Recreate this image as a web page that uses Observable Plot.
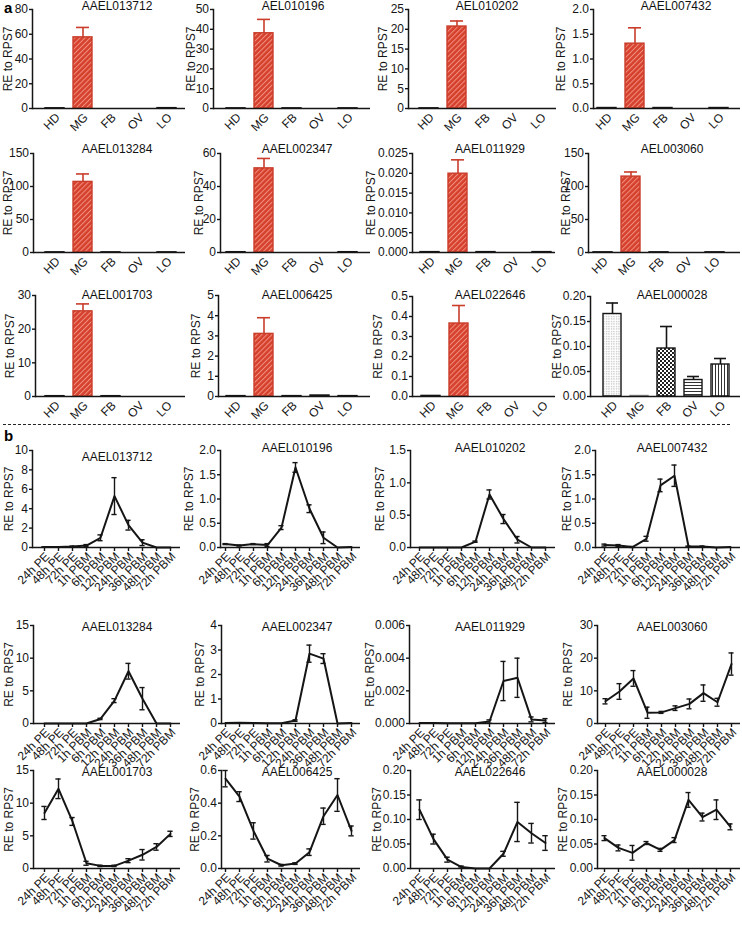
<!DOCTYPE html>
<html>
<head>
<meta charset="utf-8">
<script src="https://cdn.jsdelivr.net/npm/d3@7"></script>
<script src="https://cdn.jsdelivr.net/npm/@observablehq/plot@0.6"></script>
<style>
  body { margin: 0; background: #fff; font-family: "Liberation Sans", Arial, Helvetica, sans-serif; }
  #root { position: relative; width: 742px; height: 936px; overflow: hidden; background: #fff; }
  .ttl { position: absolute; font-size: 12px; line-height: 12px; transform: translateX(-50%); white-space: nowrap; color: #111; }
  .lab { position: absolute; font-size: 15px; font-weight: bold; line-height: 15px; color: #000; }
  .dash { position: absolute; left: 3px; width: 727px; top: 424px; border-top: 1.2px dashed #222; height: 0; }
</style>
</head>
<body>
<div id="root">
  <svg width="0" height="0" style="position:absolute;left:0;top:0">
    <defs>
      <pattern id="redHatch" patternUnits="userSpaceOnUse" width="3.6" height="3.6" patternTransform="rotate(45)">
        <rect width="3.6" height="3.6" fill="#d6412e"></rect>
        <rect x="0" y="0" width="1" height="3.6" fill="#f0907f"></rect>
      </pattern>
      <pattern id="dots" patternUnits="userSpaceOnUse" width="2.5" height="2.5">
        <rect width="2.5" height="2.5" fill="#ffffff"></rect>
        <rect x="1" y="1" width="1" height="1" fill="#9a9a9a"></rect>
      </pattern>
      <pattern id="checker" patternUnits="userSpaceOnUse" width="4" height="4">
        <rect width="4" height="4" fill="#ffffff"></rect>
        <rect width="2" height="2" fill="#222"></rect>
        <rect x="2" y="2" width="2" height="2" fill="#222"></rect>
      </pattern>
      <pattern id="hlines" patternUnits="userSpaceOnUse" width="4" height="3">
        <rect width="4" height="3" fill="#ffffff"></rect>
        <rect y="1" width="4" height="1" fill="#333"></rect>
      </pattern>
      <pattern id="vlines" patternUnits="userSpaceOnUse" width="3" height="4">
        <rect width="3" height="4" fill="#ffffff"></rect>
        <rect x="1" width="1" height="4" fill="#333"></rect>
      </pattern>
    </defs>
  </svg>
  <div class="lab" style="left:4px;top:0px">a</div>
  <div class="lab" style="left:4px;top:428px">b</div>
  <div class="dash"></div>
</div>
<script>
// ---------------- DATA ----------------
const tissues = ["HD", "MG", "FB", "OV", "LO"];
const times = ["24h PE", "48h PE", "72h PE", "1h PBM", "6h PBM", "12h PBM", "24h PBM", "36h PBM", "48h PBM", "72h PBM"];

const titlesA = ["AAEL013712", "AEL010196", "AEL010202", "AAEL007432",
                 "AAEL013284", "AAEL002347", "AAEL011929", "AEL003060",
                 "AAEL001703", "AAEL006425", "AAEL022646", "AAEL000028"];
const titlesB = ["AAEL013712", "AAEL010196", "AAEL010202", "AAEL007432",
                 "AAEL013284", "AAEL002347", "AAEL011929", "AAEL003060",
                 "AAEL001703", "AAEL006425", "AAEL022646", "AAEL000028"];

// Panel a: tissue expression (HD, MG, FB, OV, LO); null = no visible bar
const a1Mean = [0.2, 57.5, null, null, 0.3];      const a1Err = [0, 8, 0, 0, 0];
const a2Mean = [0.1, 38, 0.1, null, 0.1];         const a2Err = [0, 7, 0, 0, 0];
const a3Mean = [0.05, 20.7, null, null, null];    const a3Err = [0, 1.4, 0, 0, 0];
const a4Mean = [0.01, 1.31, 0.01, null, 0.01];    const a4Err = [0, 0.32, 0, 0, 0];
const a5Mean = [0.3, 107, 0.3, null, 0.3];        const a5Err = [0, 12, 0, 0, 0];
const a6Mean = [0.2, 51, null, null, 0.2];        const a6Err = [0, 6, 0, 0, 0];
const a7Mean = [0.0001, 0.0199, 0.0001, null, 0.0001]; const a7Err = [0, 0.0035, 0, 0, 0];
const a8Mean = [0.3, 115, 0.3, null, 0.3];        const a8Err = [0, 7, 0, 0, 0];
const a9Mean = [0.1, 25.3, 0.1, null, null];      const a9Err = [0, 2.2, 0, 0, 0];
const a10Mean = [0.02, 3.1, 0.02, 0.05, 0.02];    const a10Err = [0, 0.8, 0, 0, 0];
const a11Mean = [0.003, 0.365, null, null, null]; const a11Err = [0, 0.09, 0, 0, 0];
const a12Mean = [0.165, 0.001, 0.096, 0.033, 0.064]; const a12Err = [0.022, 0, 0.044, 0.007, 0.012];

const a1Ticks = [0, 20, 40, 60, 80];
const a2Ticks = [0, 10, 20, 30, 40, 50];
const a3Ticks = [0, 5, 10, 15, 20, 25];
const a4Ticks = [0, 0.5, 1.0, 1.5, 2.0];
const a5Ticks = [0, 50, 100, 150];
const a6Ticks = [0, 20, 40, 60];
const a7Ticks = [0, 0.005, 0.010, 0.015, 0.020, 0.025];
const a8Ticks = [0, 50, 100, 150];
const a9Ticks = [0, 10, 20, 30];
const a10Ticks = [0, 1, 2, 3, 4, 5];
const a11Ticks = [0, 0.1, 0.2, 0.3, 0.4, 0.5];
const a12Ticks = [0, 0.05, 0.10, 0.15, 0.20];

// Panel b: time course (mean, sem)
const b1Mean = [0.05, 0.05, 0.1, 0.2, 1.0, 5.3, 2.3, 0.5, 0, 0];
const b1Err  = [0.02, 0.02, 0.05, 0.1, 0.3, 1.9, 0.5, 0.3, 0, 0];
const b2Mean = [0.07, 0.04, 0.07, 0.05, 0.41, 1.65, 0.8, 0.2, 0, 0.01];
const b2Err  = [0.01, 0.01, 0.01, 0.03, 0.04, 0.1, 0.08, 0.12, 0, 0];
const b3Mean = [0, 0, 0, 0, 0.09, 0.82, 0.44, 0.12, 0, 0];
const b3Err  = [0, 0, 0, 0, 0.01, 0.07, 0.07, 0.05, 0, 0];
const b4Mean = [0.05, 0.04, 0.01, 0.18, 1.28, 1.48, 0.02, 0.02, 0, 0.01];
const b4Err  = [0.02, 0.02, 0.01, 0.05, 0.13, 0.22, 0.01, 0.01, 0, 0];
const b5Mean = [0, 0, 0, 0, 0.7, 3.5, 8.0, 3.8, 0, 0];
const b5Err  = [0, 0, 0, 0, 0.1, 0.3, 1.2, 1.7, 0, 0];
const b6Mean = [0.02, 0.03, 0.02, 0.01, 0.01, 0.12, 2.85, 2.65, 0, 0.02];
const b6Err  = [0, 0, 0, 0, 0, 0.03, 0.35, 0.2, 0, 0];
const b7Mean = [0.00003, 0.00003, 0.00002, 0.00001, 0.00001, 0.00012, 0.0026, 0.0028, 0.00025, 0.00018];
const b7Err  = [0, 0, 0, 0, 0, 0.0001, 0.0012, 0.0012, 0.00015, 0.00012];
const b8Mean = [6.8, 9.8, 13.8, 3.3, 3.4, 4.7, 6.0, 9.3, 6.5, 18.2];
const b8Err  = [0.8, 2.4, 2.4, 1.7, 0.3, 0.7, 1.5, 2.5, 1.2, 3.4];
const b9Mean = [8.5, 12.2, 7.2, 0.8, 0.4, 0.4, 1.2, 2.1, 3.3, 5.3];
const b9Err  = [1.0, 1.5, 0.6, 0.3, 0.1, 0.1, 0.3, 0.8, 0.5, 0.4];
const b10Mean = [0.55, 0.44, 0.23, 0.06, 0.02, 0.03, 0.10, 0.32, 0.45, 0.23];
const b10Err  = [0.05, 0.03, 0.05, 0.02, 0.005, 0.005, 0.02, 0.05, 0.1, 0.03];
const b11Mean = [0.12, 0.06, 0.018, 0.003, 0, 0, 0.03, 0.095, 0.072, 0.052];
const b11Err  = [0.02, 0.01, 0.005, 0.002, 0, 0, 0.005, 0.04, 0.02, 0.015];
const b12Mean = [0.062, 0.042, 0.032, 0.052, 0.038, 0.058, 0.14, 0.105, 0.12, 0.085];
const b12Err  = [0.005, 0.006, 0.015, 0.003, 0.003, 0.005, 0.015, 0.008, 0.02, 0.006];

const b1Ticks = [0, 2, 4, 6, 8, 10];
const b2Ticks = [0, 0.5, 1.0, 1.5, 2.0];
const b3Ticks = [0, 0.5, 1.0, 1.5];
const b4Ticks = [0, 0.5, 1.0, 1.5, 2.0];
const b5Ticks = [0, 5, 10, 15];
const b6Ticks = [0, 1, 2, 3, 4];
const b7Ticks = [0, 0.002, 0.004, 0.006];
const b8Ticks = [0, 10, 20, 30];
const b9Ticks = [0, 5, 10, 15];
const b10Ticks = [0, 0.2, 0.4, 0.6];
const b11Ticks = [0, 0.05, 0.10, 0.15, 0.20];
const b12Ticks = [0, 0.05, 0.10, 0.15, 0.20];

// ---------------- STYLE ----------------
const RED = "#c93d2a";
const INK = "#151515";
const redFills = ["white", "url(#redHatch)", "white", "white", "white"];
const redStrokes = [INK, RED, INK, INK, INK];
const patFills = ["url(#dots)", "white", "url(#checker)", "url(#hlines)", "url(#vlines)"];
const patStrokes = [INK, "#8a8a8a", INK, INK, INK];

// ---------------- LAYOUT (page coordinates) ----------------
// axis x, baseline end x, first/last category x, top y, baseline y, y-label offset, title centre x, title baseline y
const W = 742, H = 936;
const panelsA = [
  {mean: a1Mean, err: a1Err, ticks: a1Ticks, fmt: "d",   axis: 32,  end: 185, first: 53,    last: 167,   top: 9,   base: 108, lab: 29, tx: 117, ty: 10},
  {mean: a2Mean, err: a2Err, ticks: a2Ticks, fmt: "d",   axis: 213, end: 370, first: 234.5, last: 348,   top: 9,   base: 108, lab: 27, tx: 293, ty: 10},
  {mean: a3Mean, err: a3Err, ticks: a3Ticks, fmt: "d",   axis: 408, end: 556, first: 427.5, last: 541,   top: 9,   base: 108, lab: 30, tx: 487, ty: 10},
  {mean: a4Mean, err: a4Err, ticks: a4Ticks, fmt: ".1f", axis: 593, end: 740, first: 605,   last: 719,   top: 9,   base: 108, lab: 37, tx: 676, ty: 10},
  {mean: a5Mean, err: a5Err, ticks: a5Ticks, fmt: "d",   axis: 33,  end: 185, first: 53,    last: 167,   top: 153, base: 252, lab: 30, tx: 117, ty: 153},
  {mean: a6Mean, err: a6Err, ticks: a6Ticks, fmt: "d",   axis: 220, end: 370, first: 234,   last: 348,   top: 153, base: 252, lab: 26, tx: 297, ty: 153},
  {mean: a7Mean, err: a7Err, ticks: a7Ticks, fmt: ".3f", axis: 412, end: 555, first: 428,   last: 542,   top: 153, base: 252, lab: 46, tx: 490, ty: 153},
  {mean: a8Mean, err: a8Err, ticks: a8Ticks, fmt: "d",   axis: 588, end: 740, first: 601,   last: 715,   top: 153, base: 252, lab: 27, tx: 672, ty: 153},
  {mean: a9Mean, err: a9Err, ticks: a9Ticks, fmt: "d",   axis: 35,  end: 185, first: 53.5,  last: 167.5, top: 295, base: 396, lab: 30, tx: 117, ty: 299},
  {mean: a10Mean, err: a10Err, ticks: a10Ticks, fmt: "d", axis: 218, end: 370, first: 234.5, last: 348.5, top: 295, base: 396, lab: 27, tx: 297, ty: 299},
  {mean: a11Mean, err: a11Err, ticks: a11Ticks, fmt: ".1f", axis: 412, end: 555, first: 429, last: 543,   top: 296, base: 396, lab: 39, tx: 490, ty: 299},
  {mean: a12Mean, err: a12Err, ticks: a12Ticks, fmt: ".2f", axis: 590, end: 740, first: 611, last: 722,   top: 296, base: 396, lab: 38, tx: 672, ty: 299, pattern: true}
];
const panelsB = [
  {mean: b1Mean, err: b1Err, ticks: b1Ticks, fmt: "d",   axis: 32,  end: 180, first: 42,  last: 172, top: 450, base: 547, lab: 28, tx: 117, ty: 461},
  {mean: b2Mean, err: b2Err, ticks: b2Ticks, fmt: ".1f", axis: 220, end: 360, first: 223, last: 353, top: 450, base: 547, lab: 36, tx: 297, ty: 452},
  {mean: b3Mean, err: b3Err, ticks: b3Ticks, fmt: ".1f", axis: 410, end: 555, first: 417, last: 547, top: 450, base: 547, lab: 35, tx: 490, ty: 452},
  {mean: b4Mean, err: b4Err, ticks: b4Ticks, fmt: ".1f", axis: 595, end: 740, first: 602, last: 732, top: 450, base: 547, lab: 33, tx: 672, ty: 452},
  {mean: b5Mean, err: b5Err, ticks: b5Ticks, fmt: "d",   axis: 33,  end: 180, first: 42,  last: 172, top: 625, base: 723, lab: 29, tx: 117, ty: 631},
  {mean: b6Mean, err: b6Err, ticks: b6Ticks, fmt: "d",   axis: 221, end: 360, first: 223, last: 353, top: 625, base: 723, lab: 26, tx: 297, ty: 631},
  {mean: b7Mean, err: b7Err, ticks: b7Ticks, fmt: ".3f", axis: 409, end: 555, first: 417, last: 547, top: 625, base: 723, lab: 44, tx: 490, ty: 631},
  {mean: b8Mean, err: b8Err, ticks: b8Ticks, fmt: "d",   axis: 597, end: 740, first: 602, last: 733, top: 625, base: 723, lab: 34, tx: 672, ty: 631},
  {mean: b9Mean, err: b9Err, ticks: b9Ticks, fmt: "d",   axis: 33,  end: 180, first: 43,  last: 172, top: 770, base: 868, lab: 29, tx: 117, ty: 776},
  {mean: b10Mean, err: b10Err, ticks: b10Ticks, fmt: ".1f", axis: 221, end: 360, first: 224, last: 352, top: 770, base: 868, lab: 31, tx: 297, ty: 776},
  {mean: b11Mean, err: b11Err, ticks: b11Ticks, fmt: ".2f", axis: 410, end: 555, first: 418, last: 545, top: 770, base: 868, lab: 38, tx: 490, ty: 776},
  {mean: b12Mean, err: b12Err, ticks: b12Ticks, fmt: ".2f", axis: 597, end: 740, first: 601, last: 732, top: 770, base: 868, lab: 39, tx: 672, ty: 776}
];

const FONT = '"Liberation Sans", Arial, Helvetica, sans-serif';
const root = document.getElementById("root");

function frameOpts(p) {
  return {
    width: W, height: H,
    marginLeft: p.axis, marginRight: W - p.end, marginTop: p.top, marginBottom: H - p.base,
    style: {background: "transparent", overflow: "visible", fontFamily: FONT, fontSize: "12px",
            color: INK, position: "absolute", left: "0px", top: "0px", maxWidth: "none"}
  };
}

function yAxis(p) {
  return Plot.axisY({ticks: p.ticks, tickFormat: p.fmt, tickSize: 3, tickPadding: 1.5, strokeWidth: 1.4,
    label: "RE to RPS7", labelAnchor: "center", labelOffset: p.lab, labelArrow: "none", fontSize: 12});
}

// rotated category labels, anchored at the band centre just below the baseline
function xLabels(domain, dy) {
  const rows = domain.map(name => ({name, angle: -45}));
  return Plot.text(rows, {x: "name", text: "name", rotate: "angle", frameAnchor: "bottom", dx: 3, dy,
    textAnchor: "end", lineAnchor: "middle", fontSize: 12, fill: INK});
}

function addTitle(text, p) {
  const d = document.createElement("div");
  d.className = "ttl";
  d.textContent = text;
  d.style.left = p.tx + "px";
  d.style.top = (p.ty - 10) + "px";
  root.appendChild(d);
}

function barPanel(p, title) {
  const fills = p.pattern ? patFills : redFills;
  const strokes = p.pattern ? patStrokes : redStrokes;
  const errColor = p.pattern ? INK : RED;
  const rows = tissues.map((t, i) => ({t, v: p.mean[i], e: p.err[i], fill: fills[i], stroke: strokes[i]}));
  const drawn = rows.filter(d => d.v != null);
  const withErr = drawn.filter(d => d.e > 0);
  const step = (p.last - p.first) / (tissues.length - 1);
  const marks = [];
  for (const d of drawn) {
    marks.push(Plot.barY([d], {x: "t", y: "v", fill: d.fill, stroke: d.stroke, strokeWidth: 1.4}));
  }
  marks.push(Plot.ruleX(withErr, {x: "t", y1: "v", y2: d => d.v + d.e, stroke: errColor, strokeWidth: 1.6}));
  marks.push(Plot.tickY(withErr, {x: "t", y: d => d.v + d.e, stroke: errColor, strokeWidth: 1.6, insetLeft: 3, insetRight: 3}));
  marks.push(Plot.ruleY([0], {stroke: INK, strokeWidth: 1.5}));
  marks.push(Plot.frame({anchor: "left", stroke: INK, strokeWidth: 1.5}));
  marks.push(xLabels(tissues, 7));
  marks.push(yAxis(p));
  const svg = Plot.plot({
    ...frameOpts(p),
    x: {type: "band", domain: tissues, range: [p.first - step / 2, p.last + step / 2], paddingInner: 0.33, paddingOuter: 0.165, axis: null},
    y: {domain: [0, p.ticks[p.ticks.length - 1]]},
    marks
  });
  root.appendChild(svg);
  addTitle(title, p);
}

function linePanel(p, title) {
  const rows = times.map((t, i) => ({t, m: p.mean[i], e: p.err[i]}));
  const withErr = rows.filter(d => d.e > 0);
  const step = (p.last - p.first) / (times.length - 1);
  const capInset = step / 2 - 2.8;
  const svg = Plot.plot({
    ...frameOpts(p),
    x: {type: "band", domain: times, range: [p.first - step / 2, p.last + step / 2], padding: 0},
    y: {domain: [0, p.ticks[p.ticks.length - 1]]},
    marks: [
      Plot.ruleY([0], {stroke: INK, strokeWidth: 1.5}),
      Plot.frame({anchor: "left", stroke: INK, strokeWidth: 1.5}),
      Plot.ruleX(withErr, {x: "t", y1: d => d.m - d.e, y2: d => d.m + d.e, stroke: INK, strokeWidth: 1.4}),
      Plot.tickY(withErr, {x: "t", y: d => d.m + d.e, stroke: INK, strokeWidth: 1.4, insetLeft: capInset, insetRight: capInset}),
      Plot.tickY(withErr, {x: "t", y: d => d.m - d.e, stroke: INK, strokeWidth: 1.4, insetLeft: capInset, insetRight: capInset}),
      Plot.line(rows, {x: "t", y: "m", stroke: INK, strokeWidth: 2}),
      Plot.axisX({tickSize: 4, tickFormat: () => "", strokeWidth: 1.4, label: null}),
      xLabels(times, 7),
      yAxis(p)
    ]
  });
  root.appendChild(svg);
  addTitle(title, p);
}

panelsA.forEach((p, i) => barPanel(p, titlesA[i]));
panelsB.forEach((p, i) => linePanel(p, titlesB[i]));
</script>
</body>
</html>
